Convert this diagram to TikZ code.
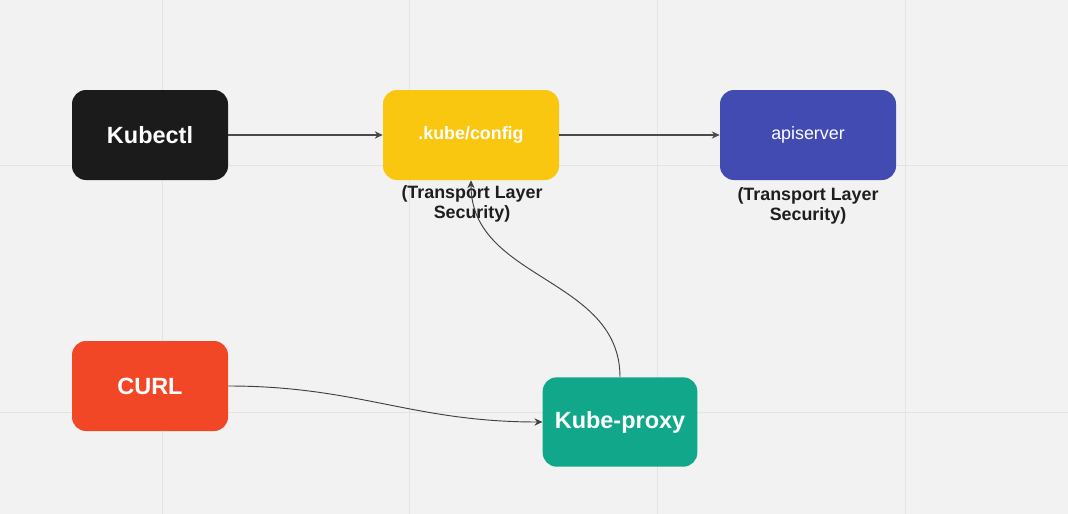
\documentclass[tikz,border=0pt]{standalone}
\usepackage{fontspec}
\setmainfont{Liberation Sans}
\usetikzlibrary{arrows.meta}
\definecolor{bg}{HTML}{F2F2F2}
\definecolor{gridc}{HTML}{E4E4E4}
\definecolor{kblack}{HTML}{1B1B1B}
\definecolor{kyellow}{HTML}{FAC710}
\definecolor{kblue}{HTML}{414BB2}
\definecolor{kred}{HTML}{F24726}
\definecolor{kteal}{HTML}{10A78A}
\definecolor{arrowc}{HTML}{4A4A4A}
\definecolor{labelc}{HTML}{1E1E1E}
\tikzset{
  box/.style={rounded corners=10.5pt, inner sep=0pt, minimum height=67.5pt, text=white, align=center},
  bigtxt/.style={font=\fontsize{17.6}{20}\selectfont\bfseries},
  midtxt/.style={font=\fontsize{13.4}{16}\selectfont\bfseries},
  regtxt/.style={font=\fontsize{13.4}{16}\selectfont},
  tls/.style={text=labelc, align=center, font=\fontsize{13.4}{15}\selectfont\bfseries, inner sep=0pt},
  conn/.style={draw=arrowc, line width=0.9pt, -{Stealth[length=6pt,width=5.5pt]}},
  curve/.style={draw=labelc!85, line width=0.7pt, -{Stealth[length=6pt,width=5.5pt]}}
}
\begin{document}
\begin{tikzpicture}[x=0.75pt,y=-0.75pt]
\fill[bg] (0,0) rectangle (1068,514);
\useasboundingbox (0,0) rectangle (1068,514);
\foreach \gx in {162,409,657,905} \draw[gridc, line width=0.75pt] (\gx,0) -- (\gx,514);
\foreach \gy in {165,412} \draw[gridc, line width=0.75pt] (0,\gy) -- (1068,\gy);

\node[box, bigtxt, fill=kblack, minimum width=117pt] (kubectl) at (150,135) {Kubectl};
\node[box, midtxt, fill=kyellow, minimum width=132pt] (config) at (471,135) {.kube/config};
\node[box, regtxt, fill=kblue, minimum width=132pt] (api) at (808,135) {apiserver};
\node[box, bigtxt, fill=kred, minimum width=117pt] (curl) at (150,386) {CURL};
\node[box, bigtxt, fill=kteal, minimum width=116pt, minimum height=67pt] (proxy) at (620,422) {Kube-proxy};

\node[tls] (tls1) at (472,204) {(Transport Layer\\Security)};
\node[tls] (tls2) at (808,206) {(Transport Layer\\Security)};

\draw[conn] (kubectl.east) -- (config.west);
\draw[conn] (config.east) -- (api.west);
\draw[curve] (curl.east) .. controls +(130,0) and +(-130,0) .. (proxy.west);
\draw[curve] (proxy.north) .. controls +(0,-100) and +(0,100) .. (config.south);
\end{tikzpicture}
\end{document}
